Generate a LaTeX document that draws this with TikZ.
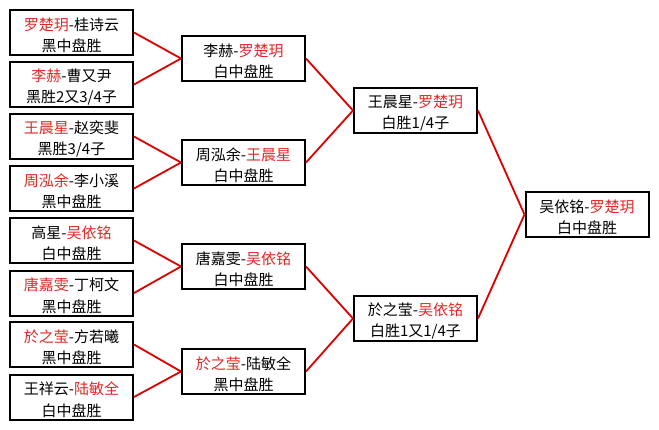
\documentclass[tikz,border=0pt]{standalone}
\usepackage{fontspec}
\setmainfont{Noto Sans CJK SC}
\definecolor{winred}{RGB}{228,38,38}
\definecolor{linered}{RGB}{222,0,0}
\newcommand{\rd}[1]{\textcolor{winred}{#1}}
\newcommand{\topstrut}{\rule{0pt}{18pt}}
\tikzset{
  match/.style={draw=black, line width=2pt, fill=white, minimum width=123pt, minimum height=45pt,
    inner sep=0pt, align=center, font=\fontsize{15}{21.5}\selectfont},
  link/.style={draw=linered, line width=1.8pt}
}
\begin{document}
\begin{tikzpicture}[x=1pt,y=-1pt]
\useasboundingbox (0,0) rectangle (659,429);
% round 1
\node[match] (m1) at (71.5,32.5) {\topstrut\rd{罗楚玥}-桂诗云\\黑中盘胜};
\node[match] (m2) at (71.5,84.5) {\topstrut\rd{李赫}-曹又尹\\黑胜2又3/4子};
\node[match] (m3) at (71.5,136.5) {\topstrut\rd{王晨星}-赵奕斐\\黑胜3/4子};
\node[match] (m4) at (71.5,188.5) {\topstrut\rd{周泓余}-李小溪\\黑中盘胜};
\node[match] (m5) at (71.5,240.5) {\topstrut 高星-\rd{吴依铭}\\白中盘胜};
\node[match] (m6) at (71.5,293) {\topstrut\rd{唐嘉雯}-丁柯文\\黑中盘胜};
\node[match] (m7) at (71.5,344.5) {\topstrut\rd{於之莹}-方若曦\\黑中盘胜};
\node[match] (m8) at (71.5,397) {\topstrut 王祥云-\rd{陆敏全}\\白中盘胜};
% round 2
\node[match] (qa) at (243.5,58.5) {\topstrut 李赫-\rd{罗楚玥}\\白中盘胜};
\node[match] (qb) at (243.5,162.5) {\topstrut 周泓余-\rd{王晨星}\\白中盘胜};
\node[match] (qc) at (243.5,266.5) {\topstrut 唐嘉雯-\rd{吴依铭}\\白中盘胜};
\node[match] (qd) at (243.5,371.5) {\topstrut\rd{於之莹}-陆敏全\\黑中盘胜};
% semifinals
\node[match] (sa) at (415.5,110.5) {\topstrut 王晨星-\rd{罗楚玥}\\白胜1/4子};
\node[match] (sb) at (415.5,318.5) {\topstrut 於之莹-\rd{吴依铭}\\白胜1又1/4子};
% final
\node[match] (fin) at (587,214.5) {\topstrut 吴依铭-\rd{罗楚玥}\\白中盘胜};
% connectors
\draw[link] (m1.east) -- (qa.west);
\draw[link] (m2.east) -- (qa.west);
\draw[link] (m3.east) -- (qb.west);
\draw[link] (m4.east) -- (qb.west);
\draw[link] (m5.east) -- (qc.west);
\draw[link] (m6.east) -- (qc.west);
\draw[link] (m7.east) -- (qd.west);
\draw[link] (m8.east) -- (qd.west);
\draw[link] (qa.east) -- (sa.west);
\draw[link] (qb.east) -- (sa.west);
\draw[link] (qc.east) -- (sb.west);
\draw[link] (qd.east) -- (sb.west);
\draw[link] (sa.east) -- (fin.west);
\draw[link] (sb.east) -- (fin.west);
\end{tikzpicture}
\end{document}
